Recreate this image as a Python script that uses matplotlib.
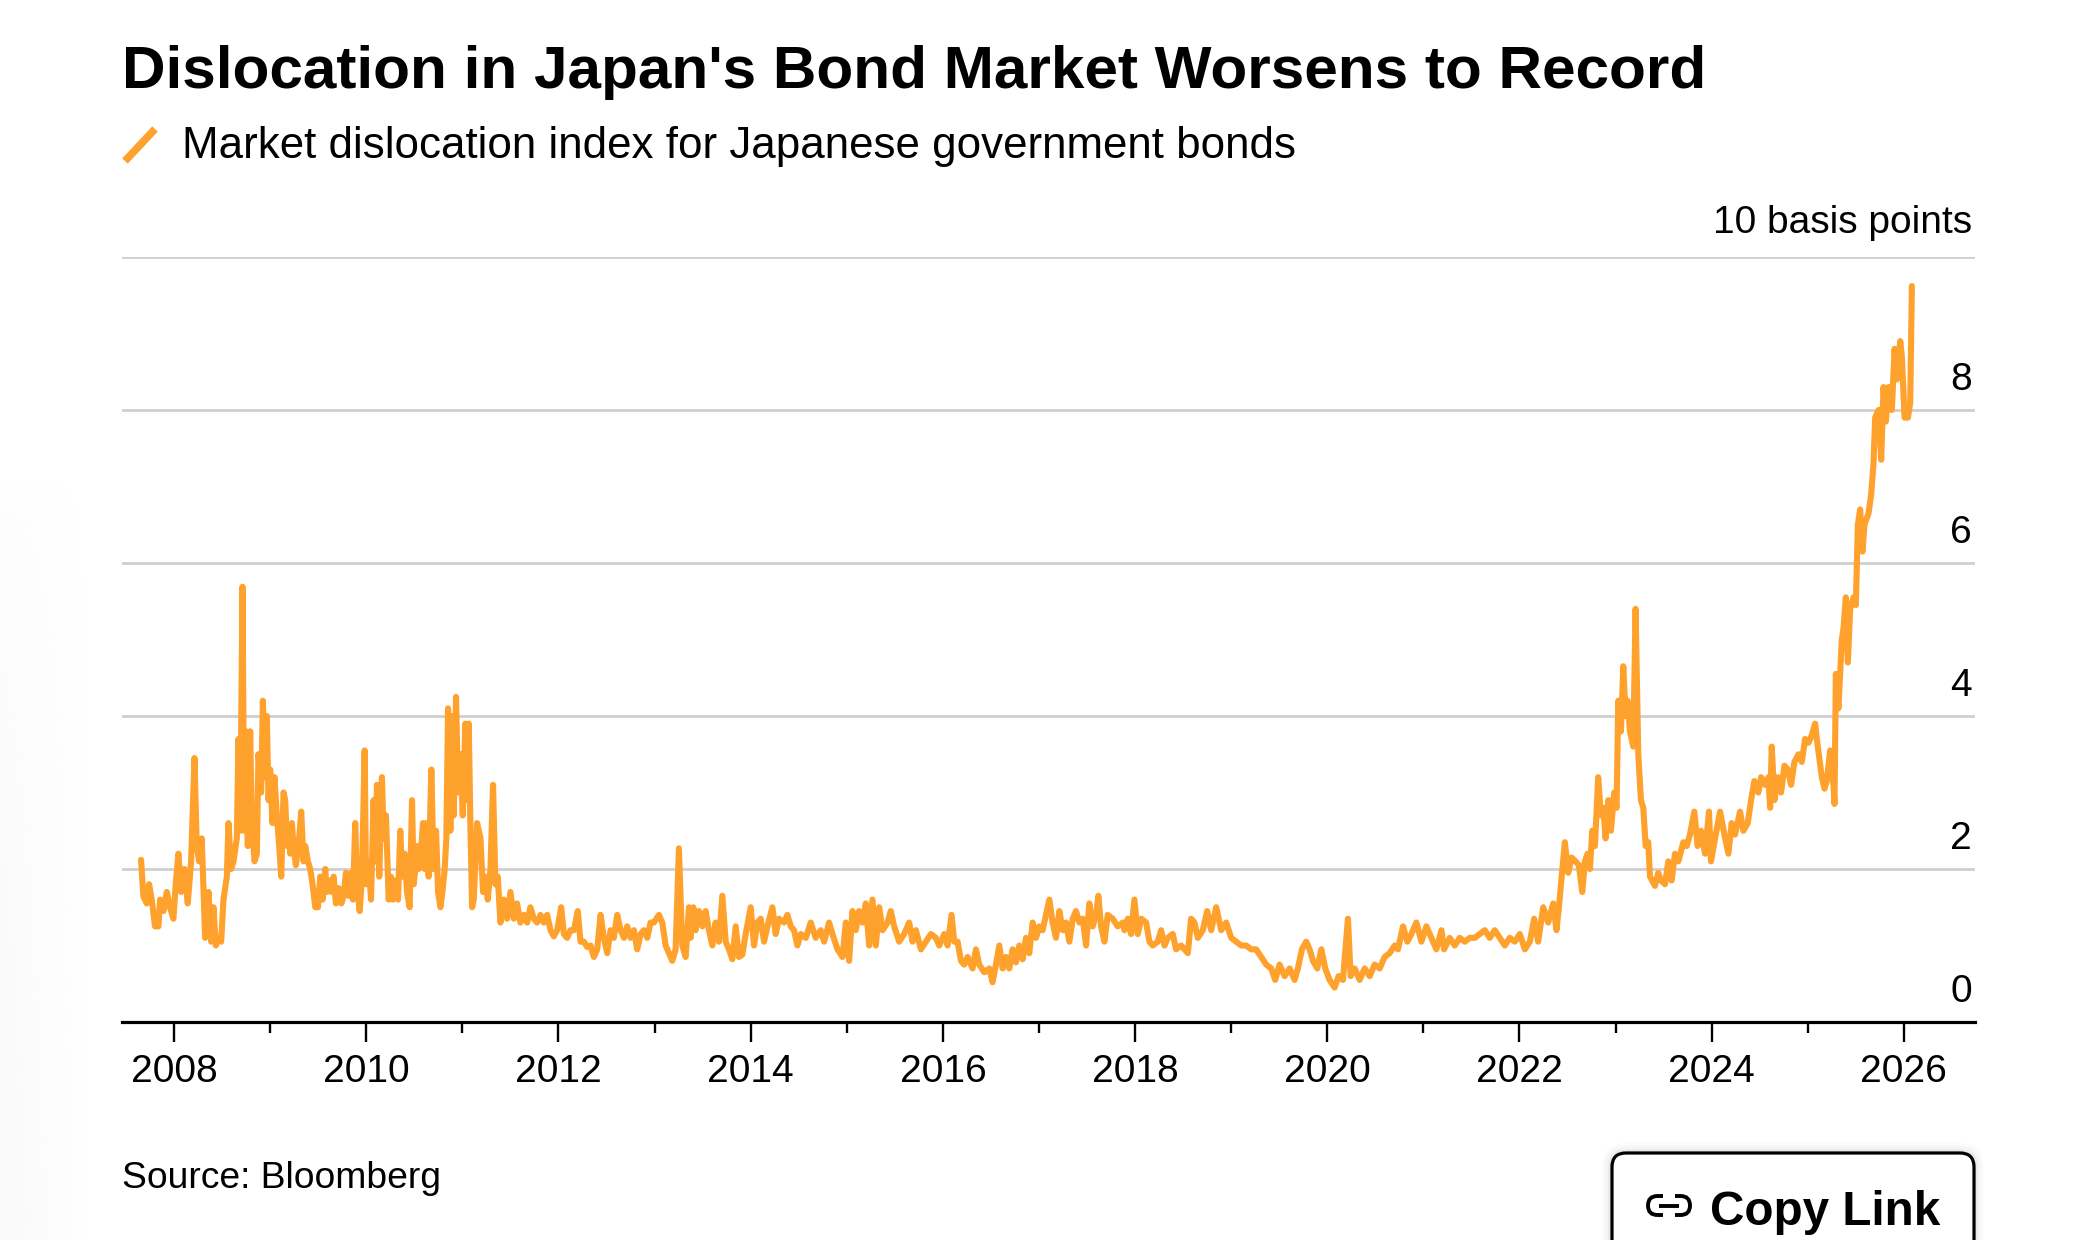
import matplotlib
matplotlib.use("Agg")
import matplotlib.pyplot as plt
import matplotlib.transforms as mtransforms
from matplotlib.patches import FancyBboxPatch, Rectangle
from matplotlib import font_manager
import numpy as np

# ---------------- text ----------------
title = "Dislocation in Japan's Bond Market Worsens to Record"
subtitle = "Market dislocation index for Japanese government bonds"
unit_label = "10 basis points"
source = "Source: Bloomberg"
button_label = "Copy Link"

# ---------------- data (decimal year, basis points / 10) ----------------
years = [
    2007.656, 2007.681, 2007.715, 2007.740, 2007.767, 2007.802, 2007.837, 2007.854, 2007.889, 2007.924,
    2007.958, 2007.993, 2008.017, 2008.045, 2008.073, 2008.108, 2008.142, 2008.177, 2008.212, 2008.236,
    2008.260, 2008.288, 2008.323, 2008.358, 2008.385, 2008.410, 2008.434, 2008.462, 2008.490, 2008.514,
    2008.549, 2008.566, 2008.594, 2008.618, 2008.653, 2008.670, 2008.688, 2008.712, 2008.729, 2008.747,
    2008.767, 2008.792, 2008.809, 2008.837, 2008.861, 2008.878, 2008.906, 2008.924, 2008.948, 2008.965,
    2008.983, 2009.000, 2009.024, 2009.045, 2009.069, 2009.094, 2009.115, 2009.139, 2009.156, 2009.177,
    2009.191, 2009.208, 2009.226, 2009.243, 2009.267, 2009.295, 2009.323, 2009.347, 2009.365, 2009.392,
    2009.417, 2009.441, 2009.469, 2009.497, 2009.521, 2009.545, 2009.573, 2009.590, 2009.615,
    2009.642, 2009.660, 2009.684, 2009.712, 2009.740, 2009.764, 2009.788, 2009.816, 2009.844, 2009.861,
    2009.885, 2009.903, 2009.931, 2009.955, 2009.983, 2009.997, 2010.024, 2010.049, 2010.076, 2010.094,
    2010.111, 2010.135, 2010.163, 2010.181, 2010.205, 2010.233, 2010.257, 2010.278, 2010.302, 2010.330,
    2010.354, 2010.372, 2010.399, 2010.424, 2010.451, 2010.476, 2010.493, 2010.510, 2010.528, 2010.545,
    2010.573, 2010.590, 2010.608, 2010.625, 2010.649, 2010.677, 2010.701, 2010.726, 2010.747, 2010.771,
    2010.788, 2010.816, 2010.833, 2010.851, 2010.875, 2010.892, 2010.910, 2010.934, 2010.955, 2010.979,
    2011.004, 2011.031, 2011.049, 2011.066, 2011.083, 2011.101,
    2011.118, 2011.153, 2011.188, 2011.215, 2011.240, 2011.264, 2011.292, 2011.319, 2011.344, 2011.368,
    2011.396, 2011.431, 2011.465, 2011.500, 2011.535, 2011.569, 2011.604, 2011.639, 2011.674, 2011.708,
    2011.743, 2011.778, 2011.813, 2011.847, 2011.882, 2011.917, 2011.951, 2011.986, 2012.028, 2012.056,
    2012.090, 2012.125, 2012.160, 2012.201, 2012.229, 2012.264, 2012.299, 2012.333, 2012.368, 2012.403,
    2012.438, 2012.472, 2012.507, 2012.542, 2012.576, 2012.611, 2012.646, 2012.681, 2012.715, 2012.750,
    2012.785, 2012.819, 2012.854, 2012.889, 2012.924, 2012.958, 2012.993, 2013.045, 2013.080, 2013.115,
    2013.149, 2013.184, 2013.219, 2013.253, 2013.288, 2013.323, 2013.358,
    2013.375, 2013.403, 2013.427, 2013.462, 2013.497, 2013.531, 2013.566, 2013.601, 2013.635, 2013.670,
    2013.705, 2013.740, 2013.774, 2013.809, 2013.844, 2013.878, 2013.913, 2013.948, 2014.000, 2014.035,
    2014.069, 2014.104, 2014.139, 2014.174, 2014.226, 2014.260, 2014.295, 2014.347, 2014.382, 2014.417,
    2014.451, 2014.486, 2014.521, 2014.573, 2014.625, 2014.677, 2014.729, 2014.764, 2014.816, 2014.851,
    2014.903, 2014.955, 2014.990, 2015.024, 2015.059, 2015.094, 2015.128, 2015.163, 2015.198, 2015.233,
    2015.267, 2015.302, 2015.337, 2015.372, 2015.424, 2015.458, 2015.493, 2015.545, 2015.597, 2015.649,
    2015.684, 2015.719, 2015.771, 2015.823, 2015.875, 2015.927, 2015.962, 2016.014, 2016.049, 2016.090,
    2016.118, 2016.153, 2016.188, 2016.222, 2016.257, 2016.309, 2016.344, 2016.378, 2016.431, 2016.483,
    2016.517, 2016.552, 2016.587, 2016.622, 2016.656, 2016.691, 2016.726, 2016.760, 2016.795, 2016.830,
    2016.865, 2016.899, 2016.934, 2016.969, 2017.003, 2017.038, 2017.073, 2017.108, 2017.142, 2017.177,
    2017.212, 2017.247, 2017.281, 2017.316, 2017.351, 2017.385, 2017.420, 2017.455, 2017.490, 2017.524,
    2017.559, 2017.594, 2017.618, 2017.646, 2017.681, 2017.715, 2017.767, 2017.819, 2017.872,
    2017.889, 2017.924, 2017.958, 2017.993, 2018.028, 2018.063, 2018.115, 2018.149, 2018.184, 2018.236,
    2018.271, 2018.306, 2018.340, 2018.392, 2018.427, 2018.479, 2018.514, 2018.549, 2018.583, 2018.618,
    2018.653, 2018.705, 2018.750, 2018.792, 2018.844, 2018.896, 2018.948, 2019.000, 2019.052, 2019.104,
    2019.156, 2019.208, 2019.260, 2019.313, 2019.365, 2019.417, 2019.458, 2019.503, 2019.556, 2019.608,
    2019.660, 2019.694, 2019.736, 2019.781, 2019.816, 2019.851, 2019.896, 2019.938, 2019.979, 2020.024,
    2020.076, 2020.118, 2020.163, 2020.215, 2020.243, 2020.285, 2020.337, 2020.389, 2020.441, 2020.493,
    2020.545, 2020.597, 2020.649, 2020.701, 2020.736, 2020.788, 2020.833, 2020.875, 2020.927, 2020.979,
    2021.031, 2021.083, 2021.135, 2021.188, 2021.215, 2021.274, 2021.326, 2021.378, 2021.431, 2021.483,
    2021.535, 2021.587, 2021.639, 2021.691, 2021.743, 2021.795, 2021.847, 2021.899, 2021.951, 2022.003,
    2022.056, 2022.108, 2022.153, 2022.194, 2022.247, 2022.299, 2022.351, 2022.385, 2022.410,
    2022.472, 2022.507, 2022.542, 2022.583, 2022.618, 2022.653, 2022.681, 2022.708, 2022.733, 2022.757,
    2022.785, 2022.819, 2022.847, 2022.872, 2022.896, 2022.924, 2022.951, 2022.986, 2023.010, 2023.028,
    2023.056, 2023.080, 2023.104, 2023.125, 2023.149, 2023.184, 2023.208, 2023.236, 2023.264, 2023.288,
    2023.313, 2023.340, 2023.358, 2023.410, 2023.444, 2023.472, 2023.514, 2023.549, 2023.583, 2023.618,
    2023.653, 2023.705, 2023.740, 2023.774, 2023.819, 2023.854, 2023.889, 2023.931, 2023.972, 2023.993,
    2024.035, 2024.087, 2024.132, 2024.174, 2024.208, 2024.243, 2024.295, 2024.330, 2024.375, 2024.410,
    2024.444, 2024.486, 2024.514, 2024.556, 2024.590, 2024.608, 2024.625, 2024.653, 2024.688, 2024.722,
    2024.757, 2024.792, 2024.826, 2024.861, 2024.903, 2024.938, 2024.972, 2025.007, 2025.042, 2025.076,
    2025.104, 2025.146, 2025.174, 2025.198, 2025.233, 2025.267, 2025.278,
    2025.292, 2025.319, 2025.354, 2025.372, 2025.396, 2025.417, 2025.441, 2025.476, 2025.500, 2025.521,
    2025.545, 2025.569, 2025.590, 2025.632, 2025.660, 2025.684, 2025.701, 2025.736, 2025.764, 2025.788,
    2025.813, 2025.840, 2025.875, 2025.903, 2025.927, 2025.962, 2025.979, 2026.007, 2026.042, 2026.066,
    2026.083,
]

values = [
    2.12, 1.64, 1.55, 1.80, 1.60, 1.25, 1.25, 1.60, 1.45, 1.70,
    1.50, 1.35, 1.80, 2.20, 1.70, 2.00, 1.55, 2.10, 3.45, 2.30,
    2.10, 2.40, 1.10, 1.70, 1.05, 1.50, 1.00, 1.10, 1.05, 1.60,
    1.90, 2.60, 2.00, 2.10, 2.40, 3.70, 2.50, 5.69, 2.50, 3.80,
    2.30, 3.80, 2.60, 2.10, 2.20, 3.50, 3.00, 4.20, 3.20, 4.00,
    2.90, 3.30, 2.60, 3.20, 2.70, 2.30, 1.90, 3.00, 2.90, 2.30,
    2.50, 2.20, 2.60, 2.30, 2.05, 2.30, 2.75, 2.10, 2.30, 2.10,
    2.00, 1.80, 1.50, 1.50, 1.90, 1.60, 2.00, 1.70, 1.85,
    1.70, 1.90, 1.55, 1.75, 1.55, 1.65, 1.95, 1.65, 1.95, 1.60,
    2.60, 1.80, 1.45, 1.90, 3.55, 1.80, 2.10, 1.60, 2.90, 2.10,
    3.10, 1.90, 3.20, 2.40, 2.70, 1.60, 1.90, 1.60, 1.85, 1.60,
    2.50, 1.90, 2.20, 1.70, 1.50, 2.90, 1.80, 2.00, 2.30, 2.00,
    2.30, 2.60, 2.00, 2.60, 1.90, 3.30, 2.00, 2.50, 1.70, 1.50,
    1.65, 2.00, 2.40, 4.10, 2.50, 4.00, 2.70, 4.25, 3.00, 3.50,
    2.70, 3.90, 2.90, 3.90, 2.60, 1.50,
    1.60, 2.60, 2.40, 1.70, 1.90, 1.60, 2.00, 3.10, 1.80, 1.90,
    1.30, 1.60, 1.35, 1.70, 1.35, 1.55, 1.30, 1.40, 1.30, 1.50,
    1.35, 1.30, 1.40, 1.30, 1.40, 1.20, 1.12, 1.20, 1.50, 1.15,
    1.10, 1.20, 1.20, 1.45, 1.05, 1.05, 0.98, 1.00, 0.85, 0.95,
    1.40, 1.10, 0.90, 1.20, 1.10, 1.40, 1.20, 1.10, 1.25, 1.10,
    1.20, 0.95, 1.15, 1.20, 1.10, 1.30, 1.30, 1.40, 1.30, 1.00,
    0.90, 0.80, 0.95, 2.27, 1.00, 0.85, 1.50,
    1.10, 1.50, 1.20, 1.45, 1.25, 1.45, 1.20, 1.00, 1.30, 1.05,
    1.65, 1.05, 0.95, 0.82, 1.25, 0.85, 0.88, 1.15, 1.50, 1.00,
    1.30, 1.35, 1.05, 1.25, 1.50, 1.15, 1.35, 1.30, 1.40, 1.25,
    1.20, 1.00, 1.15, 1.10, 1.30, 1.10, 1.20, 1.05, 1.30, 1.15,
    0.95, 0.85, 1.30, 0.80, 1.45, 1.20, 1.45, 1.30, 1.55, 1.00,
    1.60, 1.00, 1.50, 1.20, 1.30, 1.45, 1.25, 1.05, 1.15, 1.30,
    1.05, 1.20, 0.95, 1.05, 1.15, 1.10, 1.00, 1.15, 1.00, 1.40,
    1.05, 1.05, 0.80, 0.75, 0.85, 0.70, 0.95, 0.75, 0.65, 0.70,
    0.52, 0.75, 1.00, 0.70, 0.85, 0.70, 0.95, 0.78, 1.00, 0.82,
    1.10, 0.90, 1.30, 1.10, 1.25, 1.20, 1.40, 1.60, 1.30, 1.10,
    1.45, 1.20, 1.30, 1.05, 1.35, 1.45, 1.30, 1.35, 1.00, 1.55,
    1.25, 1.40, 1.65, 1.25, 1.05, 1.40, 1.35, 1.25, 1.30,
    1.20, 1.35, 1.15, 1.60, 1.15, 1.35, 1.30, 1.05, 1.00, 1.05,
    1.20, 1.00, 1.10, 1.15, 0.95, 1.00, 0.95, 0.90, 1.35, 1.30,
    1.10, 1.20, 1.45, 1.20, 1.50, 1.20, 1.30, 1.10, 1.05, 1.00,
    1.00, 0.95, 0.95, 0.85, 0.75, 0.70, 0.55, 0.75, 0.60, 0.70,
    0.55, 0.70, 0.95, 1.05, 0.95, 0.80, 0.70, 0.95, 0.70, 0.55,
    0.45, 0.60, 0.55, 1.35, 0.60, 0.70, 0.55, 0.70, 0.60, 0.75,
    0.70, 0.85, 0.90, 1.00, 0.95, 1.25, 1.05, 1.15, 1.30, 1.05,
    1.25, 1.10, 0.95, 1.20, 0.95, 1.10, 1.00, 1.10, 1.05, 1.10,
    1.10, 1.15, 1.20, 1.10, 1.20, 1.10, 1.00, 1.10, 1.05, 1.15,
    0.95, 1.05, 1.35, 1.05, 1.50, 1.30, 1.55, 1.20, 1.50,
    2.35, 1.95, 2.15, 2.10, 2.05, 1.70, 2.10, 2.20, 2.00, 2.50,
    2.30, 3.20, 2.70, 2.80, 2.40, 2.90, 2.50, 3.00, 2.80, 4.20,
    3.80, 4.65, 4.00, 4.20, 3.80, 3.60, 5.40, 3.50, 2.90, 2.80,
    2.30, 2.35, 1.90, 1.78, 1.95, 1.85, 1.80, 2.10, 1.85, 2.20,
    2.10, 2.35, 2.30, 2.45, 2.75, 2.30, 2.50, 2.20, 2.75, 2.10,
    2.40, 2.75, 2.45, 2.20, 2.60, 2.45, 2.75, 2.50, 2.60, 2.90,
    3.15, 3.00, 3.20, 3.10, 3.20, 2.80, 3.60, 2.90, 3.20, 3.00,
    3.35, 3.30, 3.10, 3.40, 3.50, 3.40, 3.70, 3.65, 3.75, 3.90,
    3.60, 3.20, 3.05, 3.15, 3.55, 3.10, 2.85,
    4.55, 4.10, 5.00, 5.15, 5.55, 4.70, 5.40, 5.55, 5.45, 6.50,
    6.70, 6.15, 6.50, 6.65, 6.90, 7.30, 7.90, 8.00, 7.35, 8.30,
    7.85, 8.30, 8.00, 8.80, 8.40, 8.90, 8.70, 7.90, 7.90, 8.10,
    9.62,
]

major_years = [2008, 2010, 2012, 2014, 2016, 2018, 2020, 2022, 2024, 2026]
minor_years = [2009, 2011, 2013, 2015, 2017, 2019, 2021, 2023, 2025]
y_ticks = [0, 2, 4, 6, 8]
grid_levels = [2, 4, 6, 8, 10]

# ---------------- style ----------------
ORANGE = "#FFA12D"
GRID = "#cfcfcf"


def pick_font(names):
    for n in names:
        try:
            font_manager.findfont(font_manager.FontProperties(family=n), fallback_to_default=False)
            return n
        except Exception:
            continue
    return "DejaVu Sans"


FONT = pick_font(["Liberation Sans", "Arimo", "Noto Sans", "DejaVu Sans"])
TITLE_FONT = pick_font(["Liberation Sans Narrow", "Liberation Sans", "Arimo", "DejaVu Sans"])
plt.rcParams["font.family"] = [FONT, "DejaVu Sans"]

W, H = 2092, 1240
fig = plt.figure(figsize=(W / 100, H / 100), dpi=100)
fig.patch.set_facecolor("white")

# overlay axes in pixel coordinates (y downward) for page furniture
ov = fig.add_axes([0, 0, 1, 1])
ov.set_zorder(0)

# faint shading at the left edge
grad = np.linspace(1.0, 0.0, 90)[None, :] * np.linspace(0.0, 1.0, 60)[:, None] ** 0.5
rgba = np.zeros((60, 90, 4))
rgba[..., :3] = 0.80
rgba[..., 3] = grad * 0.12
ov.imshow(rgba, extent=[0, 90, H, 470], aspect="auto", interpolation="bilinear", zorder=0)
ov.set_xlim(0, W)
ov.set_ylim(H, 0)
ov.axis("off")

# main axes
ax = fig.add_axes([122 / W, 1 - 1022 / H, (1975 - 122) / W, (1022 - 257) / H])
ax.set_zorder(1)
ax.patch.set_alpha(0)
ax.set_xlim(2007.458, 2026.74)
ax.set_ylim(0, 10)

ax.set_yticks(grid_levels)
ax.grid(axis="y", color=GRID, lw=2.0, zorder=0)
ax.tick_params(axis="y", length=0, labelleft=False, labelright=False)
for s in ["top", "left", "right"]:
    ax.spines[s].set_visible(False)
ax.spines["bottom"].set_color("black")
ax.spines["bottom"].set_linewidth(2.3)
ax.spines["bottom"].set_zorder(4)

ax.set_xticks(major_years)
ax.set_xticks(minor_years, minor=True)
ax.tick_params(axis="x", which="major", length=14.5, width=1.7, color="black", labelbottom=False)
ax.tick_params(axis="x", which="minor", length=8.0, width=1.7, color="black", labelbottom=False)

ax.plot(years, values, color=ORANGE, lw=4.4, solid_joinstyle="round", solid_capstyle="round", zorder=3,
        clip_on=False)

# x tick labels
xlab_tr = mtransforms.offset_copy(ax.get_xaxis_transform(), fig=fig, x=0, y=-60, units="dots")
for yr in major_years:
    ax.text(yr, 0, str(yr), transform=xlab_tr, ha="center", va="baseline", fontsize=28, color="black")

# y tick labels (above the gridlines, right aligned)
ylab_tr = mtransforms.offset_copy(ax.get_yaxis_transform(), fig=fig, x=-3, y=20, units="dots")
for v in y_ticks:
    ax.text(1.0, v, str(v), transform=ylab_tr, ha="right", va="baseline", fontsize=28, color="black")
unit_tr = mtransforms.offset_copy(ax.get_yaxis_transform(), fig=fig, x=-3, y=24, units="dots")
t_unit = ax.text(1.0, 10, unit_label, transform=unit_tr, ha="right", va="baseline", fontsize=28, color="black")

# header
t_title = ov.text(122, 88, title, fontsize=45, fontweight="bold", ha="left", va="baseline", color="black",
                  family=[TITLE_FONT, "DejaVu Sans"])
ov.plot([125, 155], [161, 129], color=ORANGE, lw=5.5, solid_capstyle="butt")
t_sub = ov.text(182, 158, subtitle, fontsize=28, ha="left", va="baseline", color="black")

# footer
t_src = ov.text(122, 1188, source, fontsize=22, ha="left", va="baseline", color="black")

# copy link button with soft shadow
for k, a in [(10, 0.015), (7, 0.025), (4, 0.04), (2, 0.05)]:
    ov.add_patch(FancyBboxPatch((1612 - k, 1153 - k), 362 + 2 * k, 140 + 2 * k,
                                boxstyle="round,pad=0,rounding_size=%d" % (14 + k),
                                fc="black", ec="none", alpha=a, zorder=2))
ov.add_patch(FancyBboxPatch((1612, 1153), 362, 140, boxstyle="round,pad=0,rounding_size=14",
                            fc="white", ec="black", lw=2.3, zorder=3))
# link icon
ov.add_patch(FancyBboxPatch((1648, 1196), 42, 19, boxstyle="round,pad=0,rounding_size=9.5",
                            fc="none", ec="black", lw=2.8, zorder=4))
ov.add_patch(Rectangle((1663, 1190), 12, 9, fc="white", ec="none", zorder=5))
ov.add_patch(Rectangle((1663, 1212), 12, 9, fc="white", ec="none", zorder=5))
ov.plot([1659, 1679], [1205.5, 1205.5], color="black", lw=2.8, solid_capstyle="butt", zorder=6)
t_btn = ov.text(1710, 1225, button_label, fontsize=37, fontweight="bold", ha="left", va="baseline",
                color="black", zorder=6)

# fit text widths to the reference layout
fig.canvas.draw()
renderer = fig.canvas.get_renderer()


def fit_width(t, target):
    w = t.get_window_extent(renderer=renderer).width
    if w > 0:
        t.set_fontsize(t.get_fontsize() * target / w)


fit_width(t_title, 1583)
fit_width(t_sub, 1112)
fit_width(t_src, 318)
fit_width(t_btn, 230)

fig.savefig("out.png", dpi=100, facecolor="white")
